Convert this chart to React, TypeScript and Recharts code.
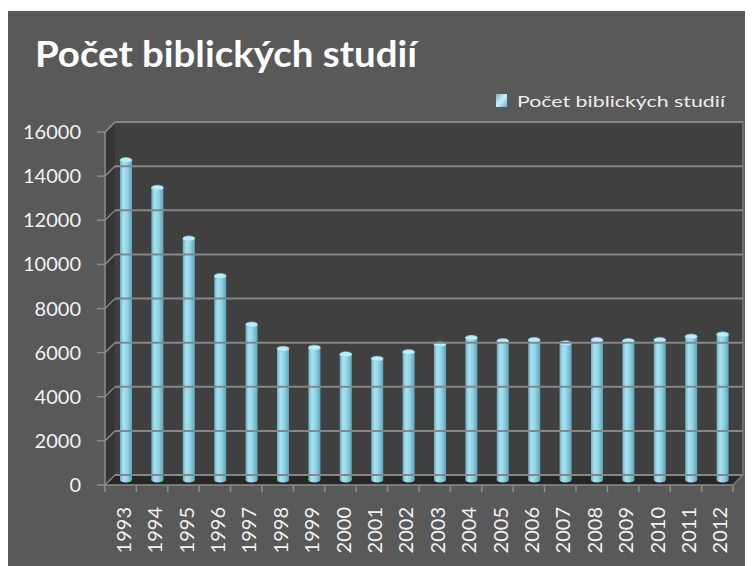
import React from 'react';
import { BarChart, Bar, XAxis, YAxis, Legend, ReferenceArea, ReferenceLine } from 'recharts';

const years = ['1993', '1994', '1995', '1996', '1997', '1998', '1999', '2000', '2001', '2002', '2003', '2004', '2005', '2006', '2007', '2008', '2009', '2010', '2011', '2012'];
const studies = [14500, 13250, 10950, 9250, 7050, 5950, 6000, 5700, 5500, 5800, 6150, 6450, 6300, 6350, 6200, 6350, 6300, 6350, 6500, 6600];
const yTicks = [0, 2000, 4000, 6000, 8000, 10000, 12000, 14000, 16000];
const seriesName = 'Počet biblických studií';
const chartTitle = 'Počet biblických studií';

const data = years.map((year, i) => ({ year, value: studies[i] }));

const DEPTH = 10;
const FONT = 'Lato, "Open Sans", sans-serif';
const AXIS = '#8c8c8c';
const GRID = '#868686';
const TEXT = '#f2f2f2';

const Cylinder = (props: any) => {
  const { x, y, width, height } = props;
  if (width == null || height == null) return null;
  const dx = DEPTH / 2;
  const top = y - DEPTH / 2;
  const cx = x + dx + width / 2;
  const rx = width / 2;
  const ry = 2.5;
  return (
    <g>
      <rect x={x + dx} y={top} width={width} height={height} fill="url(#cylGrad)" />
      <ellipse cx={cx} cy={top + height} rx={rx} ry={ry} fill="url(#cylGrad)" />
      <ellipse cx={cx} cy={top} rx={rx} ry={ry} fill="#bdeef8" stroke="#86c9dc" strokeWidth={0.6} />
    </g>
  );
};

const Walls = (props: any) => {
  const { x, y, width, height } = props;
  const d = DEPTH;
  return (
    <g>
      <rect x={x + d} y={y - d} width={width} height={height} fill="#404040" />
      <polygon points={`${x},${y + height} ${x},${y} ${x + d},${y - d} ${x + d},${y + height - d}`} fill="#353535" />
      <polygon points={`${x},${y + height} ${x + d},${y + height - d} ${x + width + d},${y + height - d} ${x + width},${y + height}`} fill="#272727" />
      <polyline points={`${x},${y} ${x + d},${y - d} ${x + width + d},${y - d} ${x + width + d},${y + height - d} ${x + width},${y + height}`} fill="none" stroke="#6e6e6e" strokeWidth={2} />
    </g>
  );
};

const GridShape = (p: any) => {
  const { x1, y1, x2 } = p;
  if (x1 == null || y1 == null) return null;
  return (
    <g>
      <line x1={x1} y1={y1} x2={x1 + DEPTH} y2={y1 - DEPTH} stroke={GRID} strokeWidth={1.5} />
      <line x1={x1 + DEPTH} y1={y1 - DEPTH} x2={x2 + DEPTH} y2={y1 - DEPTH} stroke={GRID} strokeWidth={2} />
    </g>
  );
};

const XTick = (props: any) => {
  const { x, y, payload, index } = props;
  const half = payload && typeof payload.offset === 'number' && payload.offset > 0 ? payload.offset : 15.7;
  const axisY = y - 22;
  const isLast = index === years.length - 1;
  return (
    <g>
      <line x1={x - half} y1={axisY} x2={x - half} y2={axisY + 7} stroke={AXIS} strokeWidth={1.5} />
      {isLast && <line x1={x + half} y1={axisY} x2={x + half} y2={axisY + 7} stroke={AXIS} strokeWidth={1.5} />}
      <text
        transform={`translate(${x + 2},${y}) rotate(-90)`}
        textAnchor="end"
        dominantBaseline="central"
        fill={TEXT}
        fontSize={20}
        fontFamily={FONT}
      >
        {payload.value}
      </text>
    </g>
  );
};

const LegendContent = (props: any) => {
  const label = props?.payload?.[0]?.value ?? seriesName;
  return (
    <svg width={250} height={24} style={{ display: 'block' }}>
      <defs>
        <linearGradient id="legGrad" x1="0" y1="0" x2="1" y2="1">
          <stop offset="0%" stopColor="#6fb6ca" />
          <stop offset="50%" stopColor="#c4f0fa" />
          <stop offset="100%" stopColor="#6aaec2" />
        </linearGradient>
      </defs>
      <rect x={0} y={5} width={11} height={13} fill="url(#legGrad)" />
      <text x={21} y={18} fontSize={16} fill="#ededed" fontFamily={FONT} textLength={208} lengthAdjust="spacingAndGlyphs">
        {label}
      </text>
    </svg>
  );
};

export default function App() {
  return (
    <div style={{ paddingTop: 3 }}>
      <div style={{ position: 'relative', width: 745, height: 555, background: '#595959' }}>
        <BarChart width={745} height={555} data={data} margin={{ top: 121, right: 20, left: 0, bottom: 0 }} barSize={12}>
          <defs>
            <linearGradient id="cylGrad" x1="0" y1="0" x2="1" y2="0">
              <stop offset="0%" stopColor="#68aec2" />
              <stop offset="28%" stopColor="#a9e3f1" />
              <stop offset="60%" stopColor="#8fd4e6" />
              <stop offset="100%" stopColor="#5ea3b7" />
            </linearGradient>
          </defs>
          <ReferenceArea y1={0} y2={16000} shape={<Walls />} ifOverflow="visible" />
          {yTicks.map((v) => (
            <ReferenceLine key={`grid-${v}`} y={v} shape={<GridShape />} ifOverflow="visible" />
          ))}
          <XAxis
            dataKey="year"
            interval={0}
            height={81}
            tickSize={7}
            tickMargin={15}
            tickLine={false}
            axisLine={{ stroke: AXIS, strokeWidth: 1.5 }}
            tick={<XTick />}
          />
          <YAxis
            domain={[0, 16000]}
            ticks={yTicks}
            interval={0}
            width={97}
            tickSize={8}
            tickMargin={16}
            axisLine={{ stroke: AXIS, strokeWidth: 1.5 }}
            tickLine={{ stroke: AXIS, strokeWidth: 1.5 }}
            tick={{ fill: TEXT, fontSize: 20, fontFamily: FONT }}
          />
          <Legend
            verticalAlign="middle"
            align="center"
            layout="horizontal"
            content={<LegendContent />}
            wrapperStyle={{ top: 78, left: 488, width: 250, height: 24 }}
          />
          <Bar dataKey="value" name={seriesName} shape={<Cylinder />} isAnimationActive={false} />
        </BarChart>
        <svg width={745} height={80} style={{ position: 'absolute', left: 0, top: 0, pointerEvents: 'none' }}>
          <text x={27} y={56} fontSize={37} fontWeight="bold" fill="#ffffff" fontFamily={FONT} textLength={382} lengthAdjust="spacingAndGlyphs">
            {chartTitle}
          </text>
        </svg>
      </div>
    </div>
  );
}
